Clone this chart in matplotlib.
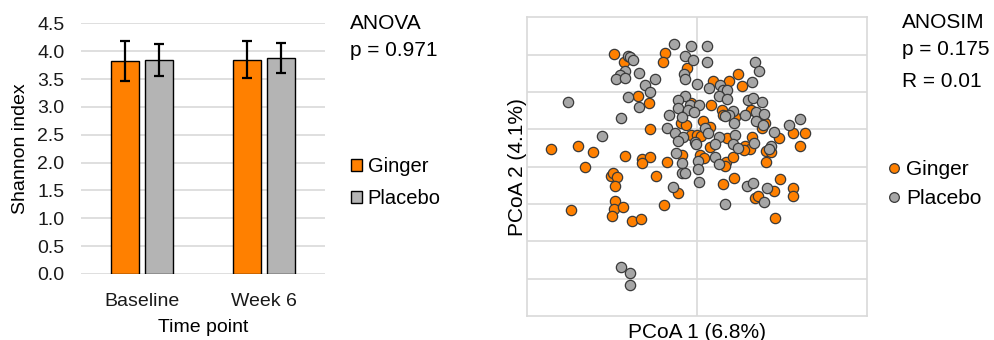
import numpy as np
import matplotlib.pyplot as plt
from matplotlib.lines import Line2D

plt.rcParams['font.family'] = ['Liberation Sans', 'DejaVu Sans']

# ---- Shannon diversity (bar chart) ----
time_points = ['Baseline', 'Week 6']
ginger_mean = [3.82, 3.85]
ginger_err = [0.36, 0.34]
placebo_mean = [3.84, 3.87]
placebo_err = [0.29, 0.27]

# ---- PCoA scores ----
ginger_pc1 = [-0.194, -0.171, -0.074, -0.080, -0.024, 0.037, 0.076, 0.097, 0.106, -0.139,
              -0.113, 0.033, -0.014, 0.059, 0.062, 0.090, 0.128, -0.038, -0.026, 0.015,
              0.031, -0.111, -0.013, 0.001, 0.009, 0.070, 0.130, 0.152, 0.160, 0.192,
              0.226, 0.255, 0.242, 0.030, 0.114, 0.124, 0.110, 0.162, 0.175, -0.343,
              -0.279, -0.243, -0.169, -0.130, -0.110, -0.128, -0.071, -0.034, 0.007, 0.017,
              0.068, 0.066, 0.085, 0.162, -0.262, -0.202, -0.197, -0.188, -0.192, -0.097,
              0.062, 0.087, 0.195, -0.044, 0.182, 0.226, 0.225, 0.136, 0.144, -0.295,
              -0.192, -0.195, -0.173, -0.200, -0.153, -0.132, -0.077, 0.183]
ginger_pc2 = [0.302, 0.279, 0.304, 0.279, 0.263, 0.229, 0.229, 0.248, 0.217, 0.188,
              0.170, 0.164, 0.170, 0.152, 0.138, 0.134, 0.152, 0.118, 0.112, 0.121,
              0.107, 0.102, 0.085, 0.085, 0.082, 0.076, 0.079, 0.103, 0.116, 0.076,
              0.091, 0.089, 0.054, 0.052, 0.054, 0.047, 0.045, 0.043, 0.040, 0.046,
              0.056, 0.039, 0.029, 0.020, 0.027, 0.009, 0.012, 0.031, 0.031, 0.024,
              0.012, 0.003, 0.025, 0.012, 0.000, -0.025, -0.018, -0.027, -0.052, -0.024,
              -0.047, -0.031, -0.034, -0.071, -0.064, -0.056, -0.078, -0.083, -0.079, -0.116,
              -0.092, -0.114, -0.107, -0.133, -0.146, -0.140, -0.104, -0.138]

placebo_pc1 = [-0.054, -0.013, 0.023, -0.162, -0.157, -0.150, -0.028, -0.010, 0.023, 0.136,
               0.145, -0.168, -0.181, -0.189, -0.169, -0.136, -0.099, -0.030, -0.027, 0.001,
               -0.122, -0.110, 0.028, 0.054, 0.062, 0.071, 0.130, -0.303, -0.161, -0.137,
               -0.029, -0.044, -0.015, 0.005, -0.045, -0.021, -0.066, -0.035, -0.006, 0.052,
               0.072, 0.121, 0.132, 0.152, 0.085, 0.076, 0.066, 0.113, 0.140, 0.158,
               0.140, 0.087, -0.179, -0.071, -0.052, -0.032, 0.019, 0.027, 0.156, 0.181,
               0.217, 0.242, -0.224, -0.044, -0.005, -0.001, 0.051, 0.043, 0.089, 0.084,
               0.097, 0.134, 0.174, 0.170, -0.049, -0.035, 0.002, 0.002, 0.043, 0.051,
               -0.036, -0.027, 0.005, -0.056, 0.117, 0.132, 0.164, 0.066, 0.158, -0.178,
               -0.158, -0.158]
placebo_pc2 = [0.329, 0.324, 0.323, 0.296, 0.295, 0.286, 0.296, 0.286, 0.279, 0.279,
               0.257, 0.255, 0.245, 0.234, 0.238, 0.251, 0.235, 0.248, 0.234, 0.221,
               0.218, 0.201, 0.210, 0.219, 0.205, 0.204, 0.228, 0.174, 0.186, 0.160,
               0.188, 0.179, 0.165, 0.164, 0.158, 0.152, 0.138, 0.134, 0.147, 0.188,
               0.180, 0.179, 0.183, 0.174, 0.149, 0.138, 0.135, 0.138, 0.146, 0.141,
               0.123, 0.118, 0.129, 0.104, 0.091, 0.080, 0.103, 0.091, 0.111, 0.094,
               0.111, 0.128, 0.082, 0.069, 0.067, 0.061, 0.079, 0.061, 0.085, 0.060,
               0.051, 0.063, 0.054, 0.047, 0.036, 0.009, 0.016, -0.007, 0.027, 0.007,
               -0.018, -0.018, -0.042, -0.055, -0.051, -0.045, -0.058, -0.101, -0.096, -0.268,
               -0.286, -0.317]

orange = '#FF8000'
grey_bar = '#B4B4B4'
grey_pt = '#A6A6A6'
grid_c = '#D9D9D9'

fig = plt.figure(figsize=(9.95, 3.4), dpi=100)

# left panel
ax1 = fig.add_axes([81/995, 1 - 274/340, 244/995, 250.7/340])
x = np.arange(len(time_points))
w = 0.23
ekw = dict(ecolor='black', elinewidth=1.6, capsize=3.5, capthick=1.6)
ax1.bar(x - 0.14, ginger_mean, w, color=orange, edgecolor='black', linewidth=1,
        yerr=ginger_err, error_kw=ekw, label='Ginger', zorder=3)
ax1.bar(x + 0.14, placebo_mean, w, color=grey_bar, edgecolor='black', linewidth=1,
        yerr=placebo_err, error_kw=ekw, label='Placebo', zorder=3)
ax1.set_xlim(-0.5, 1.5)
ax1.set_ylim(0, 4.5)
ax1.set_yticks(np.arange(0, 4.51, 0.5))
ax1.set_yticklabels([f'{v:.1f}' for v in np.arange(0, 4.51, 0.5)])
ax1.set_xticks(x)
ax1.set_xticklabels(time_points)
ax1.tick_params(length=0, labelsize=14, pad=12, colors='#1a1a1a')
ax1.tick_params(axis='x', pad=14)
ax1.yaxis.grid(True, color=grid_c, linewidth=1.2, zorder=0)
ax1.set_axisbelow(True)
for s in ax1.spines.values():
    s.set_visible(False)
ax1.set_ylabel('Shannon index', fontsize=14, labelpad=6)
ax1.set_xlabel('Time point', fontsize=14, labelpad=6)
ax1.legend(loc='upper left', bbox_to_anchor=(1.105, 0.466), frameon=False, fontsize=14.5,
           handlelength=0.55, handleheight=0.55, handletextpad=0.3, labelspacing=0.65,
           borderpad=0, borderaxespad=0)
fig.text(350/995, 1 - 29.3/340, 'ANOVA', fontsize=15, va='baseline')
fig.text(350/995, 1 - 56/340, 'p = 0.971', fontsize=15, va='baseline')

# right panel
ax2 = fig.add_axes([526.7/995, 1 - 316/340, 340.3/995, 298.7/340])
ax2.scatter(ginger_pc1, ginger_pc2, s=55, color=orange, edgecolor='#3A3A3A', linewidth=0.9, zorder=3)
ax2.scatter(placebo_pc1, placebo_pc2, s=55, color=grey_pt, edgecolor='#3A3A3A', linewidth=0.9, zorder=4)
ax2.set_xlim(-0.4, 0.4)
ax2.set_ylim(-0.4, 0.4)
ax2.set_xticks([0])
ax2.set_yticks(np.arange(-0.3, 0.31, 0.1))
ax2.grid(True, color=grid_c, linewidth=1.2, zorder=0)
ax2.tick_params(length=0, labelleft=False, labelbottom=False)
for s in ax2.spines.values():
    s.set_color(grid_c)
    s.set_linewidth(1.2)
ax2.set_xlabel('PCoA 1 (6.8%)', fontsize=15, labelpad=5)
ax2.set_ylabel('PCoA 2 (4.1%)', fontsize=15, labelpad=0)
handles = [Line2D([], [], marker='o', linestyle='', markersize=7, markerfacecolor=orange,
                  markeredgecolor='#3A3A3A', markeredgewidth=0.9),
           Line2D([], [], marker='o', linestyle='', markersize=7, markerfacecolor=grey_pt,
                  markeredgecolor='#3A3A3A', markeredgewidth=0.9)]
ax2.legend(handles, ['Ginger', 'Placebo'], loc='upper left', bbox_to_anchor=(1.06, 0.522),
           frameon=False, fontsize=15, handlelength=0.6, handletextpad=0.3, labelspacing=0.5,
           borderpad=0, borderaxespad=0)
fig.text(902/995, 1 - 28.3/340, 'ANOSIM', fontsize=15, va='baseline')
fig.text(902/995, 1 - 55/340, 'p = 0.175', fontsize=15, va='baseline')
fig.text(902/995, 1 - 87.3/340, 'R = 0.01', fontsize=15, va='baseline')

fig.savefig('out.png', dpi=100)
